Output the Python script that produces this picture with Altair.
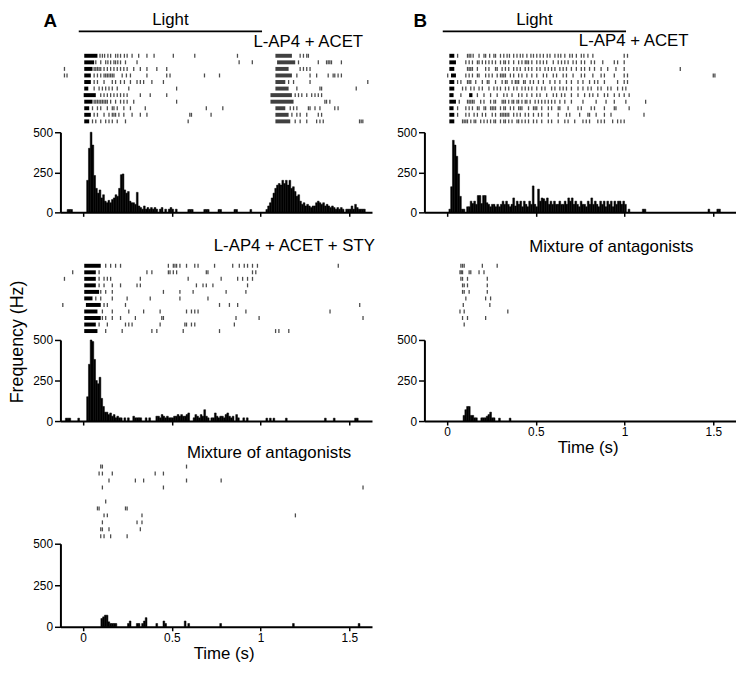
import altair as alt
import pandas as pd
import numpy as np

FONT = "Liberation Sans"
X_DOMAIN = [-0.1, 1.6]
LIGHT_ON, LIGHT_OFF = 0.0, 1.0
BIN_START = -0.10
BIN_WIDTH = 0.01
X_TICKS = [0, 0.5, 1, 1.5]
Y_TICKS = [0, 250, 500]

# ---------------- PSTH values (Hz), 10-ms bins from -0.10 s ----------------
hist_A1 = [
    0, 18, 18, 18, 0, 0, 0, 0, 0, 0,
    0, 0, 200, 400, 500, 420, 230, 150, 120, 140,
    90, 110, 70, 60, 75, 60, 80, 90, 110, 100,
    150, 235, 240, 140, 120, 130, 70, 60, 60, 50,
    125, 40, 30, 20, 40, 20, 30, 20, 30, 20,
    30, 20, 0, 20, 30, 0, 20, 0, 20, 30,
    20, 0, 20, 0, 0, 0, 0, 0, 0, 18,
    18, 18, 0, 0, 0, 0, 0, 0, 18, 18,
    18, 0, 0, 0, 0, 0, 18, 18, 0, 0,
    0, 0, 0, 0, 0, 18, 18, 0, 0, 0,
    0, 0, 0, 0, 18, 0, 0, 0, 0, 0,
    0, 0, 0, 18, 40, 60, 90, 120, 150, 170,
    180, 170, 200, 180, 200, 170, 200, 150, 160, 130,
    100, 110, 70, 50, 60, 40, 50, 40, 30, 40,
    40, 60, 70, 60, 50, 60, 40, 50, 40, 30,
    40, 30, 20, 30, 20, 30, 20, 0, 20, 20,
    20, 40, 20, 50, 30, 20, 20, 20, 20, 0,
]
hist_A2 = [
    18, 18, 18, 0, 0, 0, 0, 18, 0, 0,
    0, 0, 150, 350, 500, 490, 380, 250, 230, 270,
    140, 90, 55, 55, 40, 50, 30, 40, 20, 30,
    20, 20, 0, 20, 0, 20, 0, 0, 30, 20,
    20, 20, 20, 0, 0, 20, 0, 20, 0, 0,
    0, 30, 30, 20, 40, 30, 20, 30, 20, 20,
    20, 30, 30, 40, 30, 40, 30, 30, 40, 50,
    0, 0, 20, 40, 30, 20, 40, 30, 70, 30,
    20, 0, 20, 20, 50, 30, 20, 30, 30, 20,
    40, 50, 30, 20, 30, 0, 40, 20, 0, 0,
    20, 0, 20, 0, 0, 0, 0, 0, 0, 0,
    0, 0, 0, 18, 0, 18, 0, 18, 0, 0,
    0, 0, 0, 0, 18, 0, 0, 0, 0, 0,
    0, 0, 0, 0, 0, 0, 0, 0, 0, 0,
    0, 0, 0, 0, 0, 0, 18, 0, 0, 0,
    0, 18, 0, 0, 0, 0, 0, 0, 0, 0,
    0, 0, 0, 18, 18, 0, 0, 0, 0, 0,
]
hist_A3 = [
    0, 0, 0, 0, 0, 0, 0, 0, 0, 0,
    0, 0, 0, 0, 0, 0, 0, 0, 0, 0,
    50, 60, 70, 70, 30, 20, 20, 20, 20, 0,
    0, 0, 0, 0, 0, 20, 35, 0, 0, 0,
    20, 20, 0, 20, 35, 55, 0, 0, 0, 0,
    0, 20, 0, 0, 0, 35, 20, 0, 0, 0,
    0, 0, 0, 0, 0, 0, 0, 35, 0, 20,
    0, 0, 0, 0, 0, 0, 0, 0, 0, 0,
    0, 0, 0, 0, 0, 0, 0, 20, 0, 0,
    0, 0, 0, 0, 0, 0, 0, 0, 0, 0,
    0, 0, 0, 0, 0, 0, 0, 0, 0, 0,
    0, 0, 0, 0, 0, 0, 0, 0, 0, 0,
    0, 0, 0, 0, 0, 0, 0, 0, 20, 0,
    0, 0, 0, 0, 0, 0, 0, 0, 0, 0,
    0, 0, 0, 0, 0, 0, 0, 0, 0, 0,
    0, 0, 0, 0, 0, 0, 0, 0, 0, 0,
    0, 0, 0, 0, 0, 20, 0, 0, 0, 0,
]
hist_B1 = [
    0, 0, 0, 0, 0, 0, 0, 0, 0, 0,
    0, 20, 160, 450, 420, 350, 240, 100, 20, 20,
    0, 35, 35, 70, 55, 70, 50, 105, 105, 55,
    105, 105, 60, 50, 35, 50, 50, 35, 50, 35,
    50, 70, 50, 70, 50, 35, 50, 90, 40, 70,
    50, 70, 35, 70, 50, 35, 70, 50, 165, 50,
    35, 145, 70, 90, 85, 70, 90, 50, 70, 50,
    70, 50, 50, 70, 50, 50, 70, 50, 90, 70,
    90, 50, 70, 50, 35, 70, 50, 50, 35, 70,
    50, 90, 50, 70, 50, 35, 70, 50, 70, 35,
    70, 50, 70, 35, 70, 50, 70, 70, 50, 70,
    50, 0, 20, 0, 0, 0, 0, 0, 0, 0,
    20, 20, 0, 0, 0, 0, 0, 0, 0, 0,
    0, 0, 0, 0, 0, 0, 0, 0, 0, 0,
    0, 0, 0, 0, 0, 0, 0, 0, 0, 0,
    0, 0, 0, 0, 0, 0, 0, 20, 0, 0,
    0, 0, 20, 20, 0, 0, 0, 0, 0, 0,
]
hist_B2 = [
    0, 0, 0, 0, 0, 0, 0, 0, 0, 0,
    0, 0, 0, 0, 0, 0, 0, 0, 0, 35,
    70, 90, 90, 35, 35, 20, 20, 0, 0, 20,
    20, 20, 30, 40, 55, 20, 20, 0, 0, 18,
    0, 0, 0, 0, 0, 18, 0, 0, 0, 0,
] + [0] * 120

# ---------------- Raster data (spike times in ms, one list per trial) ----------------
A1_spikes = [
    [116, 129, 141, 159, 174, 201, 213, 228, 249, 264, 291, 327, 372, 411, 516, 633, 866, 1208, 1226, 1244, 1253],
    [93, 120, 147, 159, 174, 192, 201, 213, 228, 255, 318, 875, 947, 1199, 1307, 1352, 1361, 1370, 1379, 1433],
    [-78, 84, 93, 102, 111, 120, 138, 156, 174, 192, 210, 228, 246, 264, 300, 336, 372, 426, 480, 1208, 1226, 1244, 1262],
    [-78, -64, 84, 102, 120, 138, 147, 156, 165, 174, 183, 192, 237, 260, 282, 372, 480, 498, 686, 768, 1190, 1262, 1298, 1361, 1388, 1397, 1415, 1433],
    [84, 102, 138, 183, 201, 228, 249, 282, 318, 336, 354, 399, 462, 1145, 1172, 1262, 1577],
    [84, 111, 129, 147, 165, 183, 210, 273, 534, 1190, 1316, 1325, 1514],
    [120, 138, 156, 174, 192, 210, 228, 246, 264, 336, 390, 480, 1181, 1199, 1217, 1244, 1271, 1289, 1307, 1325],
    [84, 93, 102, 111, 120, 129, 138, 147, 156, 174, 201, 228, 246, 264, 300, 534, 1343, 1352, 1370],
    [75, 102, 120, 156, 183, 192, 210, 246, 282, 363, 696, 786, 1154, 1172, 1190, 1253, 1262, 1289, 1316, 1397, 1415],
    [84, 102, 138, 165, 183, 192, 201, 219, 246, 291, 336, 372, 606, 615, 722, 1163, 1190, 1208, 1244, 1307, 1325],
    [75, 93, 120, 147, 165, 183, 210, 255, 597, 1181, 1208, 1244, 1298, 1316, 1334, 1532, 1541, 1550],
]
A1_bursts = [
    [[30, 102], [1073, 1163]], [[30, 84], [1082, 1181]], [[30, 75], [1073, 1145]],
    [[30, 66], [1073, 1163]], [[30, 66], [1073, 1127]], [[30, 52], [1073, 1145]],
    [[27, 93], [1046, 1163]], [[30, 75], [1046, 1172]], [[30, 57], [1073, 1127]],
    [[30, 66], [1073, 1145]], [[30, 57], [1073, 1154]],
]
A2_spikes = [
    [147, 174, 201, 228, 489, 516, 525, 534, 552, 588, 633, 651, 741, 840, 876, 903, 921, 948, 975, 1416],
    [-33, 111, 372, 399, 489, 498, 516, 534, 696, 705, 948, 966],
    [-78, 111, 138, 156, 174, 336, 597, 777, 867, 894, 921, 948],
    [111, 138, 183, 228, 318, 336, 642, 678, 696, 732, 921],
    [120, 147, 183, 462, 552, 624, 804, 912],
    [93, 120, 183, 264, 390, 552, 705],
    [-87, 138, 156, 255, 768, 822, 867, 1533],
    [129, 183, 273, 354, 444, 588, 615, 633, 651, 912, 1371],
    [129, 147, 183, 228, 309, 453, 462, 858, 984, 1551],
    [111, 156, 255, 273, 291, 444, 579, 588, 615, 633, 849],
    [147, 237, 399, 426, 570, 768, 1074, 1092, 1146],
]
A2_bursts = [
    [[30, 120]], [[30, 93]], [[30, 93]], [[30, 93]], [[30, 111]], [[30, 75]],
    [[39, 120]], [[30, 102]], [[30, 120]], [[30, 93]], [[30, 102]],
]
A3_spikes = [
    [120, 129, 588],
    [111, 129, 183, 417, 462],
    [165, 309, 354, 588, 777],
    [129, 462, 1551],
    [],
    [147],
    [102, 111, 255, 264],
    [138, 156, 345, 1182],
    [129, 318, 345],
    [120, 129, 165, 336],
    [120, 138, 174, 264],
]
A3_bursts = [[] for _ in range(11)]
B1_spikes = [
    [81, 135, 144, 153, 166, 198, 225, 234, 256, 279, 288, 315, 333, 351, 364, 387, 405, 423, 437, 459, 481, 495, 513, 531, 549, 570, 585, 612, 630, 644, 666, 693, 707, 729, 756, 770, 792, 819, 990, 1008],
    [126, 144, 162, 189, 198, 216, 234, 252, 270, 288, 315, 333, 342, 360, 387, 414, 432, 450, 459, 468, 486, 513, 531, 549, 567, 603, 630, 648, 666, 684, 711, 729, 756, 774, 810, 828, 873, 936, 954, 990],
    [135, 144, 153, 162, 189, 234, 252, 288, 297, 324, 342, 360, 387, 405, 423, 450, 468, 486, 513, 531, 558, 576, 594, 612, 639, 657, 675, 702, 729, 756, 774, 801, 828, 864, 900, 945, 990, 1296],
    [27, 126, 144, 162, 189, 198, 234, 252, 270, 297, 315, 324, 333, 342, 369, 387, 414, 432, 459, 486, 513, 549, 567, 603, 621, 657, 675, 711, 756, 774, 819, 864, 882, 936, 990, 1008, 1476, 1485],
    [81, 99, 135, 144, 153, 180, 216, 243, 252, 288, 324, 342, 351, 378, 396, 405, 414, 441, 450, 477, 495, 522, 549, 585, 612, 639, 675, 702, 738, 765, 801, 828, 846, 882, 954, 990, 1008],
    [108, 126, 153, 171, 198, 216, 252, 279, 297, 315, 342, 360, 387, 405, 432, 450, 468, 486, 513, 540, 558, 594, 612, 639, 657, 675, 702, 738, 765, 792, 810, 846, 864, 900, 918, 954, 981, 999],
    [99, 189, 225, 261, 297, 333, 351, 378, 414, 432, 459, 486, 513, 531, 567, 603, 621, 648, 666, 702, 738, 774, 801, 819, 846, 882, 900, 936, 963, 990, 1017],
    [90, 135, 144, 153, 162, 171, 207, 225, 261, 279, 288, 324, 333, 342, 360, 378, 387, 405, 414, 432, 450, 459, 477, 504, 522, 540, 558, 576, 594, 612, 639, 666, 702, 765, 837, 891, 936, 999, 1107],
    [81, 126, 144, 162, 189, 198, 225, 234, 261, 270, 279, 288, 315, 333, 342, 369, 387, 414, 423, 432, 468, 495, 504, 513, 540, 576, 594, 630, 639, 684, 738, 756, 810, 828, 882, 936, 945, 1017],
    [81, 126, 144, 171, 189, 216, 234, 270, 288, 315, 324, 333, 342, 351, 360, 387, 405, 423, 450, 468, 495, 522, 540, 576, 630, 675, 693, 747, 792, 801, 837, 882, 918, 1098],
    [108, 117, 126, 135, 153, 171, 180, 207, 225, 243, 261, 279, 288, 315, 333, 342, 360, 378, 405, 414, 432, 450, 468, 495, 513, 540, 576, 594, 630, 666, 684, 720, 765, 783, 801, 846, 864, 882, 927, 954, 972, 990],
]
B1_bursts = [
    [[36, 63]], [[36, 72]], [[36, 63]], [[45, 72]], [[36, 63]], [[36, 63]],
    [[36, 59], [144, 162]], [[36, 72]], [[36, 59]], [[36, 63]], [[36, 63]],
]
B2_spikes = [
    [99, 108, 117, 216, 297],
    [94, 101, 108, 144, 153, 198, 225],
    [99, 108, 135, 243],
    [108, 117, 135, 243],
    [108, 117, 144, 243],
    [126, 234, 261],
    [112, 257],
    [94, 117, 355],
    [108, 135, 234],
    [117],
]
B2_bursts = [[] for _ in range(10)]

TITLES = {
    "A1": "L-AP4 + ACET", "A2": "L-AP4 + ACET + STY", "A3": "Mixture of antagonists",
    "B1": "L-AP4 + ACET", "B2": "Mixture of antagonists",
}

# ---------------- layout ----------------
W = 315
HDR_H = 20
R1_H, H1_H, R2_H, H2_H, R3_H, H3_H = 101, 81, 129, 82, 124, 84


def xscale():
    return alt.Scale(domain=X_DOMAIN, nice=False, zero=False)


def header(letter, letter_x):
    df = pd.DataFrame({"on": [LIGHT_ON], "off": [LIGHT_OFF],
                       "mid": [(LIGHT_ON + LIGHT_OFF) / 2], "label": ["Light"]})
    bar = alt.Chart(df).mark_rule(strokeWidth=1.8, color="black").encode(
        x=alt.X("on:Q", scale=xscale(), axis=None), x2="off:Q", y=alt.value(19))
    txt = alt.Chart(df).mark_text(fontSize=17, baseline="top", color="black").encode(
        x=alt.X("mid:Q", scale=xscale(), axis=None), y=alt.value(0), text="label:N")
    let = alt.Chart(pd.DataFrame({"p": [letter]})).mark_text(
        fontSize=19, fontWeight="bold", align="left", baseline="top", color="black").encode(
        x=alt.value(letter_x), y=alt.value(0), text="p:N")
    return alt.layer(bar, txt, let).properties(width=W, height=HDR_H)


def raster(spikes, bursts, height, first_px, step, title, title_y, title_right):
    srows = [{"t": s / 1000.0, "trial": i} for i, tr in enumerate(spikes, 1) for s in tr]
    brows = [{"t": a / 1000.0, "t2": b / 1000.0, "trial": i,
              "op": 1.0 if a < 500 else 0.75}
             for i, tr in enumerate(bursts, 1) for a, b in tr]
    lo = 1 - first_px / step
    hi = 1 + (height - first_px) / step
    ys = alt.Scale(domain=[lo, hi], reverse=True, nice=False, zero=False)
    layers = []
    if brows:
        layers.append(alt.Chart(pd.DataFrame(brows)).mark_rule(
            strokeWidth=4, color="black", strokeCap="butt").encode(
            x=alt.X("t:Q", scale=xscale(), axis=None), x2="t2:Q",
            y=alt.Y("trial:Q", scale=ys, axis=None),
            opacity=alt.Opacity("op:Q", scale=None, legend=None)))
    layers.append(alt.Chart(pd.DataFrame(srows)).mark_tick(
        orient="vertical", size=4, thickness=1.3, color="black").encode(
        x=alt.X("t:Q", scale=xscale(), axis=None),
        y=alt.Y("trial:Q", scale=ys, axis=None)))
    layers.append(alt.Chart(pd.DataFrame({"label": [title]})).mark_text(
        align="right", baseline="middle", fontSize=17, color="black").encode(
        x=alt.value(title_right), y=alt.value(title_y), text="label:N"))
    return alt.layer(*layers).properties(width=W, height=height)


def psth(values, height, show_labels, freq_label=False):
    t = BIN_START + BIN_WIDTH * np.arange(len(values))
    df = pd.DataFrame({"t": t, "t2": t + BIN_WIDTH, "hz": values})
    df = df[df.hz > 0]
    xax = alt.Axis(values=X_TICKS, labels=show_labels, format="~g",
                   title="Time (s)" if show_labels else None,
                   tickSize=4, labelFontSize=12, labelPadding=2,
                   titleFontSize=17, titleFontWeight="normal", titlePadding=2,
                   titleX=165, grid=False)
    yax = alt.Axis(values=Y_TICKS, title=None, tickSize=6, labelFontSize=12,
                   labelPadding=2, grid=False)
    bars = alt.Chart(df).mark_bar(color="black", stroke="black", strokeWidth=0.5,
                                  orient="vertical").encode(
        x=alt.X("t:Q", scale=xscale(), axis=xax), x2="t2:Q",
        y=alt.Y("hz:Q", scale=alt.Scale(domain=[0, 500], nice=False), axis=yax))
    layers = [bars]
    if freq_label:
        layers.append(alt.Chart(pd.DataFrame({"l": ["Frequency (Hz)"]})).mark_text(
            angle=270, fontSize=18, align="center", baseline="middle", color="black").encode(
            x=alt.value(-43), y=alt.value(2), text="l:N"))
    return alt.layer(*layers).properties(width=W, height=height)


hA = header("A", -17)
hB = header("B", -11)
rA1 = raster(A1_spikes, A1_bursts, R1_H, 23.7, 6.63, TITLES["A1"], 10, 306)
rB1 = raster(B1_spikes, B1_bursts, R1_H, 23.7, 6.63, TITLES["B1"], 9, 267)
pA1 = psth(hist_A1, H1_H, False)
pB1 = psth(hist_B1, H1_H, False)
rA2 = raster(A2_spikes, A2_bursts, R2_H, 54, 6.6, TITLES["A2"], 34, 318)
rB2 = raster(B2_spikes, B2_bursts, R2_H, 54, 6.6, TITLES["B2"], 35, 272)
pA2 = psth(hist_A2, H2_H, False, freq_label=True)
pB2 = psth(hist_B2, H2_H, True)
rA3 = raster(A3_spikes, A3_bursts, R3_H, 46, 7.05, TITLES["A3"], 32, 294)
blank = alt.Chart(pd.DataFrame({"v": [0]})).mark_point(opacity=0).encode(
    x=alt.value(0), y=alt.value(0)).properties(width=W, height=1)
pA3 = psth(hist_A3, H3_H, True)

chart = alt.concat(
    hA, hB, rA1, rB1, pA1, pB1, rA2, rB2, pA2, pB2, rA3, blank, pA3,
    columns=2, spacing=alt.RowColnumber(row=0, column=53),
    bounds="flush", align="each",
).properties(padding=0).configure_view(stroke=None).configure_text(
    font=FONT).configure_axis(
    labelFont=FONT, titleFont=FONT, domainColor="black", tickColor="black",
    labelColor="black", titleColor="black", domainWidth=2, tickWidth=1.5)

chart.save("out.html", embed_options={"renderer": "svg", "actions": False})
